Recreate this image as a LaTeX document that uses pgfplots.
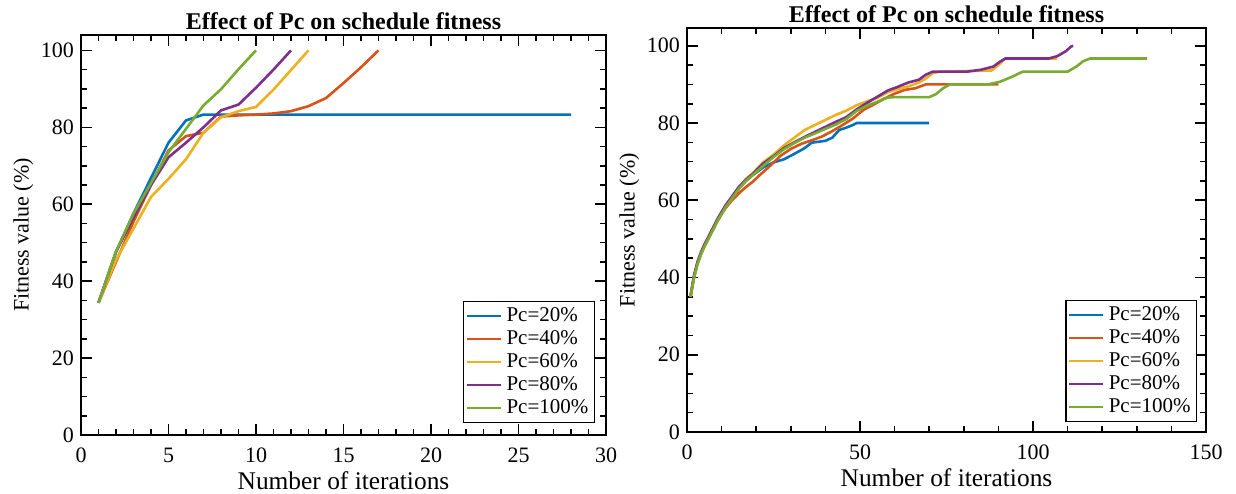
\documentclass[border=0pt]{standalone}
\usepackage{fontspec}
\setmainfont{Liberation Serif}
\usepackage{pgfplots}
\pgfplotsset{compat=1.18}

\definecolor{c1}{rgb}{0,0.447,0.741}
\definecolor{c2}{rgb}{0.85,0.325,0.098}
\definecolor{c3}{rgb}{0.929,0.694,0.125}
\definecolor{c4}{rgb}{0.494,0.184,0.556}
\definecolor{c5}{rgb}{0.466,0.674,0.188}

\pgfplotsset{
 mystyle/.style={
  scale only axis,
  axis line style={line width=0.9pt},
  every tick/.style={black, line width=0.8pt},
  major tick length=5.5pt, minor tick length=2.8pt,
  tick align=inside,
  xtick pos=both, ytick pos=both,
  /pgf/number format/assume math mode=true,
  tick label style={font=\fontsize{11}{13}\selectfont},
  xticklabel style={yshift=-3pt},
  xlabel style={font=\fontsize{12.7}{14}\selectfont, yshift=2.5pt},
  ylabel style={font=\fontsize{11}{13}\selectfont},
  ylabel shift=-3pt,
  title style={font=\bfseries\fontsize{12}{14}\selectfont, at={(0.5,1)}, anchor=base, yshift=-3.3pt},
  ymin=0,
  ytick={0,20,...,100}, minor y tick num=3,
  legend cell align=left,
  legend style={draw=black, line width=0.6pt, fill=white, font=\fontsize{10.5}{12}\selectfont, inner sep=1pt, row sep=-1pt, anchor=south east},
  every axis plot/.append style={line width=1.3pt},
  xlabel={Number of iterations},
  ylabel={Fitness value (\%)},
  title={Effect of Pc on schedule fitness},
 }
}

\begin{document}
\begin{tikzpicture}
\useasboundingbox (0,0) rectangle (618pt,246.5pt);
\begin{axis}[mystyle,
  at={(40.5pt,29pt)}, anchor=south west,
  width=262.5pt, height=200pt,
  xmin=0, xmax=30, ymax=104,
  xtick={0,5,...,30}, minor x tick num=4,
  legend style={at={(0.979,0.03)}},
]
\addplot[c1] coordinates {(1,34.4)(2,47.5)(3,57.6)(4,66.8)(5,76)(6,81.8)(7,83.3)(28,83.3)};
\addplot[c2] coordinates {(1,34.4)(2,45)(3,55.5)(4,65)(5,74)(6,77.7)(7,78.6)(8,82.8)(9,83.1)(10,83.3)(11,83.6)(12,84.2)(13,85.5)(14,87.6)(15,91.5)(16,95.6)(17,100)};
\addplot[c3] coordinates {(1,34.4)(2,45.5)(3,53.7)(4,61.9)(5,66.6)(6,71.7)(7,78.6)(8,82.6)(9,84.2)(10,85.3)(11,89.8)(12,94.9)(13,100)};
\addplot[c4] coordinates {(1,34.4)(2,47.7)(3,56.5)(4,65)(5,72.2)(6,76)(7,80)(8,84.4)(9,85.9)(10,90.3)(11,95)(12,100)};
\addplot[c5] coordinates {(1,34.4)(2,47.7)(3,57.6)(4,65.5)(5,73.5)(6,79.6)(7,85.7)(8,89.9)(9,95.1)(10,100)};
\legend{Pc=20\%,Pc=40\%,Pc=60\%,Pc=80\%,Pc=100\%}
\end{axis}

\begin{axis}[mystyle,
  at={(343.5pt,30.5pt)}, anchor=south west,
  width=259.5pt, height=201.8pt,
  xmin=0, xmax=150, ymax=104.5,
  xtick={0,50,100,150}, minor x tick num=4,
  legend style={at={(0.983,0.025)}},
]
\addplot[c1] coordinates {(1,35)(2,40)(3,43.5)(4,46)(5,48)(7,51.5)(9,55)(11,58)(13,60.5)(15,63)(17,65)(19,66.5)(22,68.5)(25,69.8)(28,70.6)(31,72)(34,73.5)(36,74.9)(40,75.4)(42,76.2)(44,78.2)(46,78.8)(48,79.5)(49,80)(70,80)};
\addplot[c2] coordinates {(1,35)(2,40)(3,43.5)(4,46)(5,48)(7,51.5)(9,55)(11,57.8)(13,60)(15,61.8)(17,63.4)(19,64.8)(21,66.5)(24,68.9)(27,71.5)(30,73.3)(33,74.6)(36,75.5)(39,76.5)(42,77.9)(45,79.5)(48,81.2)(51,83.4)(54,84.8)(57,86.3)(60,87.6)(63,88.6)(66,89.0)(69,90.0)(90,90)};
\addplot[c3] coordinates {(1,35)(2,40)(3,43.5)(4,46)(5,48)(7,51.5)(9,55)(11,58)(13,60.5)(15,63)(17,65.5)(19,67.0)(22,69.8)(25,71.8)(28,74.2)(31,76.2)(34,78.2)(37,79.5)(40,80.8)(43,82.1)(46,83.2)(49,84.6)(52,85.6)(55,86.5)(58,88.0)(61,88.8)(64,89.5)(67,90.5)(69,91.5)(71,92.9)(73,93.3)(88,93.6)(90,95.0)(92,96.7)(107,96.7)};
\addplot[c4] coordinates {(1,35)(2,40.5)(3,44)(4,46.5)(5,48.5)(7,52)(9,55.5)(11,58.5)(13,61)(15,63.5)(17,65.3)(19,66.8)(22,69.5)(25,71.4)(28,73.5)(31,75.0)(34,76.4)(37,77.7)(40,79.0)(43,80.3)(46,81.5)(49,83.5)(52,85.2)(55,86.8)(58,88.4)(61,89.4)(64,90.5)(67,91.2)(69,92.5)(71,93.3)(81,93.3)(85,93.8)(88.5,94.6)(90.5,95.9)(92,96.7)(104.5,96.7)(107,97.3)(109.5,98.6)(111,99.8)(111.6,100)};
\addplot[c5] coordinates {(1,35)(2,40)(3,43.5)(4,46)(5,48)(7,51.5)(9,55)(11,58)(13,60.5)(15,63)(17,65)(19,66.5)(22,68.9)(25,71.2)(28,73.2)(31,74.8)(34,76.2)(37,77.3)(40,78.5)(43,79.6)(46,81.0)(49,83.1)(52,84.5)(55,85.5)(58,86.6)(60,86.7)(70,86.7)(72,87.5)(74,89.0)(76,90.0)(87,90.0)(90.5,90.7)(94,92.0)(97,93.3)(110,93.3)(112.5,94.6)(114.5,96.0)(116.5,96.7)(133,96.7)};
\legend{Pc=20\%,Pc=40\%,Pc=60\%,Pc=80\%,Pc=100\%}
\end{axis}
\end{tikzpicture}
\end{document}
